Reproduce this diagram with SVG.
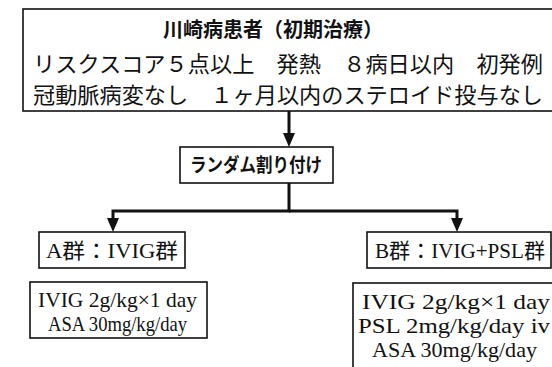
<svg xmlns="http://www.w3.org/2000/svg" width="552" height="367" viewBox="0 0 552 367">
<style>
.box{fill:#fff;stroke:#111;stroke-width:1.6}
.t{font-family:"Liberation Serif","Noto Sans CJK JP",serif;fill:#111}
.b{font-weight:700}
.conn{fill:none;stroke:#111;stroke-width:3;stroke-linejoin:miter}
</style>
<defs>
<marker id="ah" markerUnits="userSpaceOnUse" viewBox="0 0 14 12" markerWidth="14" markerHeight="12" refX="8" refY="6" orient="auto">
<path d="M0,0 L14,6 L0,12 z" fill="#111"/>
</marker>
</defs>
<rect width="552" height="367" fill="#fff"/>
<g id="patients">
<rect class="box" x="23" y="9" width="545" height="102"/>
<text class="t b" x="273" y="37" font-size="20" text-anchor="middle">川崎病患者（初期治療）</text>
<text class="t" x="33" y="72" font-size="22" textLength="510" lengthAdjust="spacingAndGlyphs">リスクスコア５点以上　発熱　８病日以内　初発例</text>
<text class="t" x="33" y="103" font-size="22" textLength="510" lengthAdjust="spacingAndGlyphs">冠動脈病変なし　１ヶ月以内のステロイド投与なし</text>
</g>
<g id="random">
<rect class="box" x="180" y="147" width="153" height="36"/>
<text class="t b" x="256" y="172" font-size="19" text-anchor="middle" textLength="132" lengthAdjust="spacingAndGlyphs">ランダム割り付け</text>
</g>
<g id="groupA">
<rect class="box" x="39" y="232" width="146" height="36"/>
<text class="t" x="112" y="258" font-size="21" text-anchor="middle" textLength="132" lengthAdjust="spacingAndGlyphs">A群：IVIG群</text>
</g>
<g id="groupB">
<rect class="box" x="367" y="232" width="184" height="36"/>
<text class="t" x="460" y="258" font-size="21" text-anchor="middle" textLength="170" lengthAdjust="spacingAndGlyphs">B群：IVIG+PSL群</text>
</g>
<g id="treatA">
<rect class="box" x="30" y="282" width="177" height="56"/>
<text class="t" x="38" y="307" font-size="22" textLength="159" lengthAdjust="spacingAndGlyphs">IVIG 2g/kg×1 day</text>
<text class="t" x="48" y="331" font-size="22" textLength="139" lengthAdjust="spacingAndGlyphs">ASA 30mg/kg/day</text>
</g>
<g id="treatB">
<rect class="box" x="353" y="283" width="210" height="100"/>
<text class="t" x="362" y="309" font-size="22" textLength="188" lengthAdjust="spacingAndGlyphs">IVIG 2g/kg×1 day</text>
<text class="t" x="358" y="333" font-size="22" textLength="192" lengthAdjust="spacingAndGlyphs">PSL 2mg/kg/day iv</text>
<text class="t" x="372" y="357" font-size="22" textLength="165" lengthAdjust="spacingAndGlyphs">ASA 30mg/kg/day</text>
</g>
<g id="connectors">
<path class="conn" d="M289,111 V141" marker-end="url(#ah)"/>
<path class="conn" d="M289,183 V211 H113 V226" marker-end="url(#ah)"/>
<path class="conn" d="M289,211 H457 V226" marker-end="url(#ah)"/>
</g>
</svg>
